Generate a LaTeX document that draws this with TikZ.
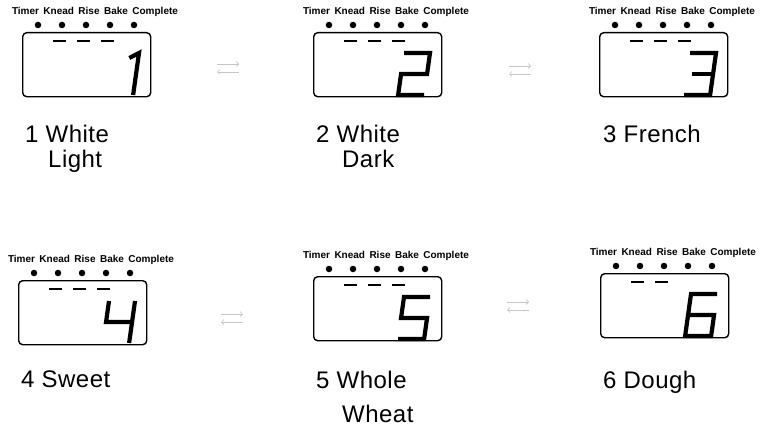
\documentclass[tikz,border=0pt]{standalone}
\usepackage{fontspec}
\setmainfont{Liberation Sans}
\usepackage{tikz}
\usetikzlibrary{positioning,arrows.meta}

% segment shapes of the big LCD digit (local units, y downward)
\newcommand{\lcdnum}[1]{%
  \ifcase#1\or
    \draw[seg] (17,5) -- (26,0) -- (26,42);
  \or
    \draw[seg] (0,0) -- (26,0) -- (26,21) -- (0,21) -- (0,42) -- (26,42);
  \or
    \draw[seg] (0,0) -- (26,0) -- (26,42) -- (0,42);
    \draw[seg] (5,21) -- (26,21);
  \or
    \draw[seg] (0,0) -- (0,21) -- (26,21);
    \draw[seg] (26,0) -- (26,42);
  \or
    \draw[seg] (26,0) -- (0,0) -- (0,21) -- (26,21) -- (26,42) -- (0,42);
  \or
    \draw[seg] (26,0) -- (0,0) -- (0,42) -- (26,42) -- (26,21) -- (0,21);
  \fi}

\begin{document}
\begin{tikzpicture}[x=1pt, y=-1pt,
  lcd/.style={draw, line width=1.4pt, rounded corners=4pt, anchor=north west,
              minimum width=128pt, minimum height=64pt, inner sep=0pt},
  lamp/.style={circle, fill, inner sep=0pt, minimum size=6.5pt},
  tags/.style={font=\fontsize{10}{10}\selectfont\bfseries, inner sep=0pt},
  bar/.style={line width=2.6pt},
  seg/.style={line width=4.2pt, line join=miter},
  prog/.style={font=\fontsize{24}{25}\selectfont\addfontfeatures{LetterSpace=2},
               align=left, anchor=north west, inner sep=0pt},
  swap/.style={gray!45, line width=0.7pt, -{Straight Barb[length=2.5pt]}}
]
\useasboundingbox (0,0) rectangle (762,428);

\foreach \n/\px/\py/\bars/\lx/\ly/\txt in {
    1/22/32/3/3/93/{1 White\\\hspace*{23pt}Light},
    2/313/32/3/3/93/{2 White\\\hspace*{26pt}Dark},
    3/599/32/3/4/93/{3 French},
    4/18/280/3/3/91/{4 Sweet},
    5/313/276/3/3/95/{5 Whole\\[9pt]\hspace*{26pt}Wheat},
    6/600/273/2/3/98/{6 Dough}}{
  \begin{scope}[shift={(\px,\py)}]
    \node[lcd] (box\n) at (0,0) {};
    \node[tags] (tag\n) at (73,-20) {Timer\, Knead\, Rise\, Bake\, Complete};
    \foreach \k in {0,...,4}
      \node[lamp] (lamp\n\k) at (16+24*\k,-7) {};
    \foreach \k in {1,...,\bars}
      \draw[bar] (7+24*\k,9) -- ++(13,0);
    \begin{scope}[shift={(91,21)}, xslant=0.14]
      \lcdnum{\n}
    \end{scope}
    \node[prog] (name\n) at (\lx,\ly) {\txt};
  \end{scope}
}

% faint change-over marks between the displays
\foreach \sx/\sy in {228/68, 520/70, 232/318, 518/306} {
  \draw[swap] (\sx-11,\sy-4) -- (\sx+11,\sy-4);
  \draw[swap] (\sx+11,\sy+4) -- (\sx-11,\sy+4);
}
\end{tikzpicture}
\end{document}
